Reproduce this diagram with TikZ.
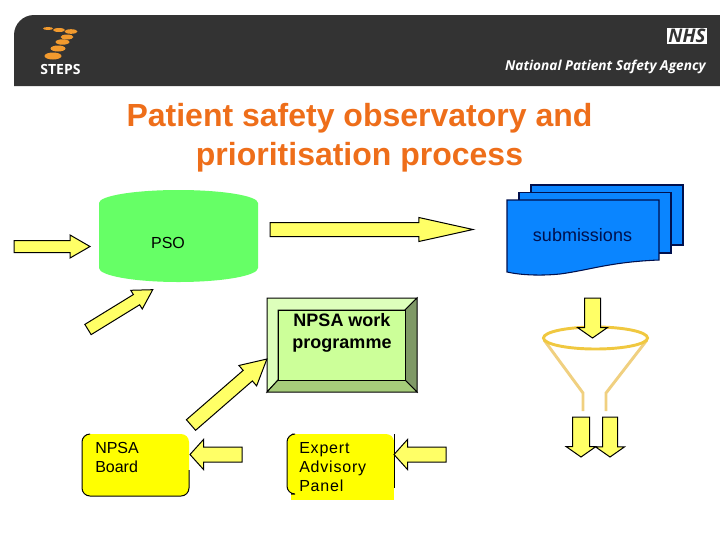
\documentclass[tikz,border=0pt]{standalone}
\usepackage{fontspec}
\setmainfont{Liberation Sans}
\newfontfamily\logofont{Open Sans}
\usetikzlibrary{shapes.arrows}
\definecolor{bannergrey}{HTML}{333333}
\definecolor{steporange}{HTML}{F29A2E}
\definecolor{titleorange}{HTML}{EE6E1A}
\definecolor{psogreen}{HTML}{66FF66}
\definecolor{sheetblue}{HTML}{0A85FF}
\definecolor{sheetline}{HTML}{00104D}
\definecolor{arrowyellow}{HTML}{FFFF66}
\definecolor{boxyellow}{HTML}{FFFF00}
\definecolor{funnelrim}{HTML}{F0C840}
\definecolor{funnelside}{HTML}{F0D080}
\definecolor{bevellight}{HTML}{DDFFBB}
\definecolor{beveldark}{HTML}{7F9966}
\definecolor{bevelmid}{HTML}{A6CC7A}
\definecolor{bevelface}{HTML}{CCFF99}
\tikzset{
    blockarrow/.style n args={4}{single arrow, draw=black, fill=arrowyellow, line width=0.75pt,
        anchor=tail, outer sep=0pt, inner xsep=0pt, inner ysep=#2*0.375pt,
        minimum height=#1*0.75pt, minimum width=0pt,
        single arrow head extend=(#3-#2)*0.375pt, single arrow tip angle=#4},
    sheet/.style={draw=sheetline, fill=sheetblue, line width=0.8pt},
    bevel/.style={draw=black, line width=0.75pt},
    plainlabel/.style={align=left, anchor=north west, inner sep=0pt, font=\fontsize{12}{14.4}\selectfont},
}
\begin{document}
\begin{tikzpicture}[x=0.75pt, y=-0.75pt]
    \useasboundingbox (0,0) rectangle (720,540);
    % Banner
    \fill[bannergrey] (14,86) [rounded corners=15pt] -- (14,15) [sharp corners] -- (720,15) -- (720,86) -- cycle;
    \foreach \x/\y/\rx/\ry in {48/28.5/5/1.5, 59/30/6/2, 71/31.5/6.5/2.3, 67/37/6.5/2.5, 62.5/42/7/2.7, 58/48.5/7.5/3, 53/56/8.5/3.5} {
        \fill[steporange] (\x,\y) ellipse[x radius=\rx, y radius=\ry];
    }
    \node[text=white, font=\logofont\bfseries\fontsize{10.5}{12}\selectfont, inner sep=0pt] (stepslogo) at (60.5,69) {STEPS};
    \node[fill=white, minimum width=30pt, minimum height=12pt, inner sep=0pt, text=bannergrey, font=\logofont\bfseries\itshape\fontsize{14}{14}\selectfont] (nhslogo) at (687,36) {NHS};
    \node[text=white, anchor=east, inner sep=0pt, font=\logofont\bfseries\itshape\fontsize{10.25}{12}\selectfont] (agency) at (706,66.5) {National Patient Safety Agency};
    % Title
    \node[text=titleorange, align=center, inner sep=0pt, font=\bfseries\fontsize{24}{29}\selectfont] (title) at (359.5,138) {Patient safety observatory and\\prioritisation process};
    % PSO drum
    \fill[psogreen] (99,203) arc[start angle=180, end angle=360, x radius=79.5, y radius=13] -- (258,268) arc[start angle=0, end angle=180, x radius=79.5, y radius=14] -- cycle;
    \node[font=\fontsize{12}{14}\selectfont, inner sep=0pt] (pso) at (168,243) {PSO};
    % Submissions stack
    \draw[sheet] (531,185) rectangle (683,245);
    \draw[sheet] (519,192.5) rectangle (671,253);
    \draw[sheet] (507,200) -- (659,200) -- (659,260) .. controls (610,262) and (590,270) .. (560,274) .. controls (540,276) and (520,275) .. (507,272) -- cycle;
    \node[text=sheetline, font=\fontsize{13.5}{14}\selectfont, inner sep=0pt] (submissions) at (582.5,235) {submissions};
    % Funnel
    \draw[funnelside, line width=2.2pt] (544,340) -- (583,393) -- (583,411);
    \draw[funnelside, line width=2.2pt] (647,340) -- (606,393) -- (606,411);
    \draw[funnelrim, line width=2.2pt] (595.5,338) ellipse[x radius=52, y radius=11];
    % Programme box
    \filldraw[bevel, fill=bevellight] (267,298) -- (417,298) -- (405,310) -- (278,310) -- (278,380) -- (267,392) -- cycle;
    \filldraw[bevel, fill=beveldark] (417,298) -- (417,392) -- (405,380) -- (405,310) -- cycle;
    \filldraw[bevel, fill=bevelmid] (267,392) -- (417,392) -- (405,380) -- (278,380) -- cycle;
    \node[bevel, fill=bevelface, minimum width=95.25pt, minimum height=52.5pt, inner sep=0pt] (programmebox) at (341.5,345) {};
    \node[align=center, inner sep=0pt, font=\bfseries\fontsize{13.5}{16.5}\selectfont] (programme) at (342,332.5) {NPSA work\\programme};
    % Yellow boxes
    \fill[boxyellow, rounded corners=6pt] (82,434) rectangle (189,496);
    \draw[black, line width=0.75pt, rounded corners=6pt] (89,434) -- (82,434) -- (82,496) -- (189,496) -- (189,470);
    \node[plainlabel] (board) at (95,442) {NPSA\\Board};
    \fill[boxyellow, rounded corners=6pt] (287,434) -- (394,434) -- (394,494) -- (287,494) -- cycle;
    \fill[boxyellow] (291,440) rectangle (394,500);
    \draw[black, line width=0.75pt, rounded corners=6pt] (292,434) -- (287,434) -- (287,494) -- (291,494);
    \draw[black, line width=0.75pt] (394,434) -- (394,488);
    \node[plainlabel, font=\addfontfeature{LetterSpace=5}\fontsize{12}{14.4}\selectfont] (panel) at (299,442) {Expert\\Advisory\\Panel};
    % Block arrows: name/tail/angle/length/shaft/head/tip angle
    \foreach \name/\x/\y/\angle/\len/\shaft/\head/\tip in {
        inflow/14/246.5/0/76/11/22/60,
        toreview/270/229.5/0/203/13/23/25,
        topso/88/329.5/31.6/76/11/21/60,
        toprogramme/191/425/41/100.6/13/26/56,
        toboard/242/454.5/180/52/14/29/96,
        topanel/446/454.5/180/52/14/29/96,
        intofunnel/592.5/298/-90/40/15/29/110,
        outleft/581/417/-90/40/16/29/110,
        outright/610/417/-90/40/14/28/110} {
        \node[blockarrow={\len}{\shaft}{\head}{\tip}, rotate=\angle] (\name) at (\x,\y) {};
    }
\end{tikzpicture}
\end{document}
